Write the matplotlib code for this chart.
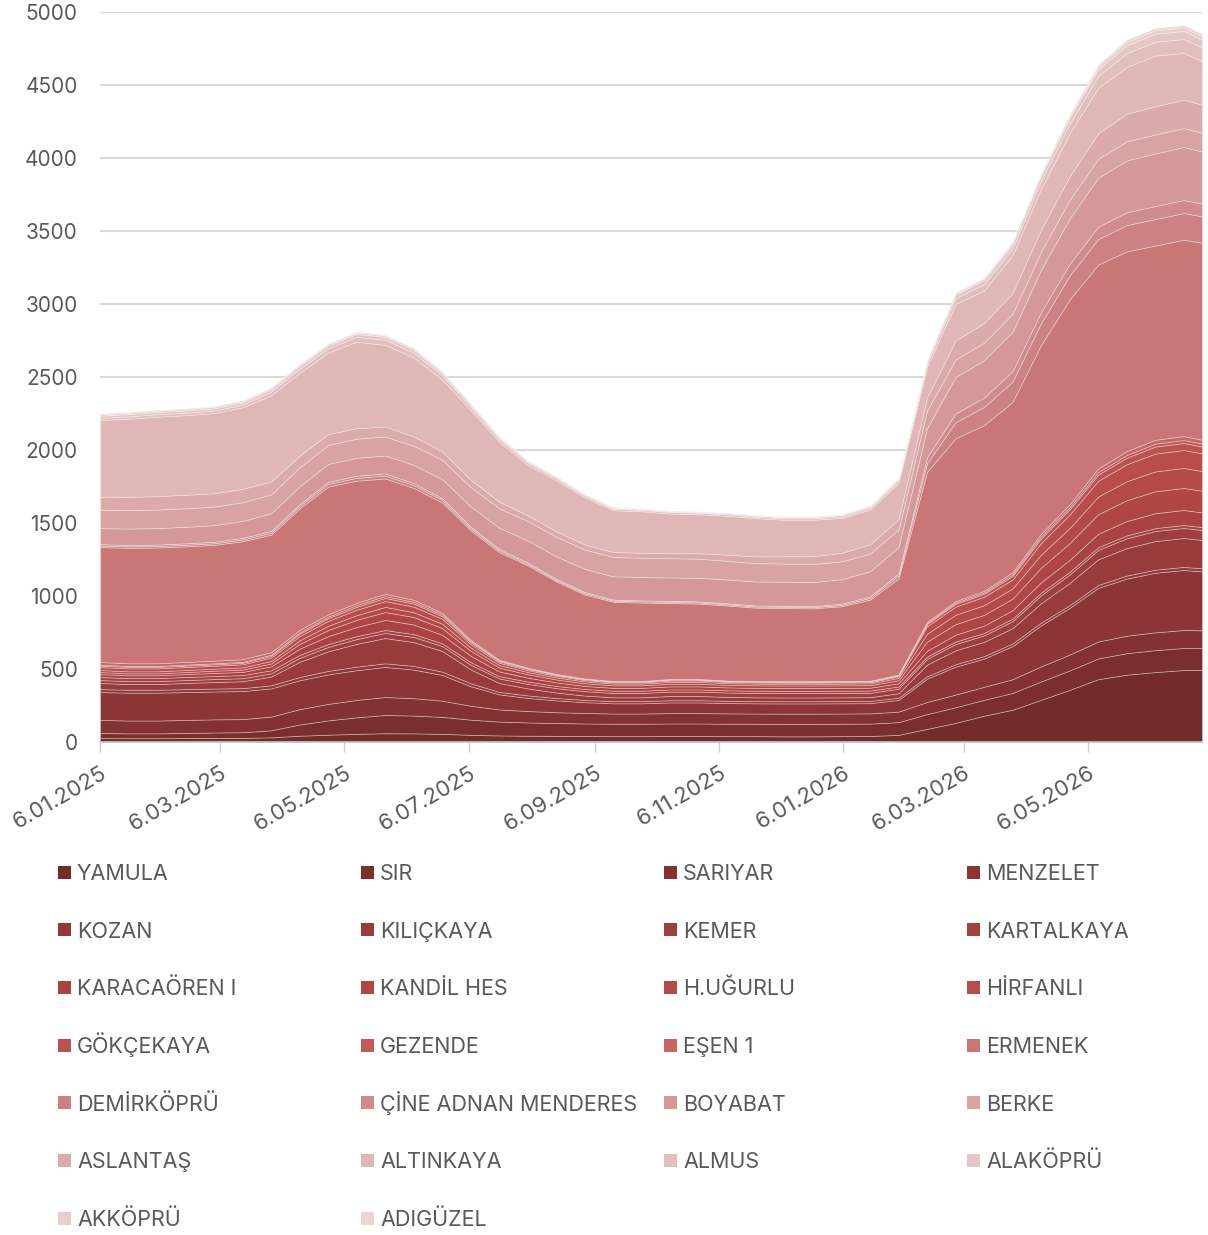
# stacked reservoir volume chart
import pandas as pd
import matplotlib
matplotlib.use('Agg')
import matplotlib.pyplot as plt
from matplotlib.patches import Rectangle

plt.rcParams['font.family'] = ['Inter', 'DejaVu Sans']

# biweekly samples, last point at end of June 2026
dates = list(pd.date_range('2025-01-06', periods=39, freq='14D')) + [pd.Timestamp('2026-07-01')]

names = ['YAMULA', 'SIR', 'SARIYAR', 'MENZELET', 'KOZAN', 'KILIÇKAYA', 'KEMER', 'KARTALKAYA',
         'KARACAÖREN I', 'KANDİL HES', 'H.UĞURLU', 'HİRFANLI', 'GÖKÇEKAYA', 'GEZENDE', 'EŞEN 1',
         'ERMENEK', 'DEMİRKÖPRÜ', 'ÇİNE ADNAN MENDERES', 'BOYABAT', 'BERKE', 'ASLANTAŞ',
         'ALTINKAYA', 'ALMUS', 'ALAKÖPRÜ', 'AKKÖPRÜ', 'ADIGÜZEL']

colors = ['#722c2c', '#7a2e2e', '#833131', '#8b3535', '#923838', '#983b3b', '#9e3e3e', '#a54141',
          '#a94343', '#ae4646', '#b34a4a', '#b74d4d', '#bb5252', '#c05959', '#c46666', '#c87676',
          '#cc8282', '#d08c8c', '#d49898', '#d8a3a3', '#dbabab', '#dfb7b7', '#e2bfbf', '#e5c6c6',
          '#e8cdcd', '#ebd4d4']

yamula = [27, 26, 26, 27, 28, 28, 32, 43, 50, 56, 60, 59, 56, 49, 45, 43, 42, 41, 40, 40,
          41, 41, 40, 40, 39, 39, 40, 41, 49, 90, 131, 180, 221, 289, 357, 430, 461, 479, 493, 493]
sir = [35, 33, 33, 35, 37, 39, 48, 77, 98, 113, 125, 122, 116, 104, 95, 91, 88, 86, 85, 85,
       86, 86, 85, 85, 85, 85, 85, 85, 87, 101, 107, 109, 115, 126, 133, 142, 147, 150, 151, 150]
sariyar = [89, 88, 88, 89, 90, 90, 94, 105, 113, 119, 123, 119, 111, 95, 83, 78, 74, 72, 70, 70,
           71, 71, 71, 70, 70, 70, 70, 70, 72, 83, 87, 89, 94, 103, 109, 116, 120, 122, 123, 122]
menzelet = [191, 191, 191, 191, 191, 192, 193, 198, 202, 204, 206, 196, 176, 134, 103, 90, 81, 74, 70, 70,
            73, 73, 71, 70, 70, 70, 70, 70, 80, 160, 191, 193, 227, 281, 319, 367, 391, 408, 411, 404]
kozan = [20, 20, 20, 20, 20, 20, 21, 22, 24, 24, 25, 25, 23, 20, 17, 17, 16, 15, 15, 15,
         15, 15, 15, 15, 15, 15, 15, 15, 15, 16, 17, 17, 18, 19, 19, 20, 21, 21, 21, 21]
kilickaya = [42, 39, 39, 42, 45, 47, 60, 104, 134, 156, 173, 163, 141, 95, 61, 48, 38, 30, 26, 26,
             29, 29, 27, 26, 26, 26, 26, 26, 31, 80, 95, 98, 105, 133, 152, 176, 188, 196, 198, 194]
kemer = [20, 20, 20, 20, 20, 21, 22, 27, 30, 33, 35, 35, 34, 32, 31, 31, 30, 30, 30, 30,
         30, 30, 30, 30, 30, 30, 30, 30, 31, 39, 43, 44, 48, 54, 58, 64, 67, 69, 69, 68]
kartalkaya = [21, 21, 21, 21, 21, 21, 21, 20, 20, 20, 20, 20, 19, 18, 16, 16, 15, 15, 15, 15,
              15, 15, 15, 15, 15, 15, 15, 15, 15, 16, 17, 17, 17, 18, 19, 19, 20, 20, 20, 20]
karacaoren = [20, 19, 19, 20, 21, 22, 27, 43, 54, 63, 69, 66, 58, 43, 32, 27, 24, 21, 20, 20,
              21, 21, 20, 20, 20, 20, 20, 20, 22, 40, 47, 50, 58, 71, 81, 92, 98, 102, 103, 101]
kandil = [14, 13, 13, 14, 15, 16, 20, 33, 42, 49, 54, 51, 46, 34, 26, 23, 20, 18, 17, 17,
          18, 18, 17, 17, 17, 17, 17, 17, 21, 62, 72, 74, 79, 100, 115, 134, 143, 150, 151, 148]
hugurlu = [14, 14, 14, 14, 14, 15, 17, 24, 29, 32, 35, 33, 30, 23, 18, 15, 14, 13, 12, 12,
           13, 13, 12, 12, 12, 12, 12, 12, 16, 55, 64, 66, 70, 90, 103, 121, 130, 136, 137, 135]
hirfanli = [20, 20, 20, 20, 20, 21, 23, 29, 34, 37, 40, 38, 33, 23, 16, 13, 11, 9, 8, 8,
            9, 9, 8, 8, 8, 8, 8, 8, 11, 50, 56, 58, 61, 79, 92, 108, 116, 122, 123, 121]
gokcekaya = [10, 10, 10, 10, 10, 10, 12, 16, 18, 20, 22, 21, 18, 13, 9, 8, 6, 6, 5, 5,
             6, 6, 5, 5, 5, 5, 5, 5, 6, 15, 19, 20, 25, 32, 36, 42, 45, 48, 48, 47]
gezende = [7, 7, 7, 7, 7, 7, 8, 10, 11, 12, 13, 12, 11, 8, 6, 5, 4, 3, 3, 3,
           3, 3, 3, 3, 3, 3, 3, 3, 4, 7, 9, 9, 11, 14, 15, 18, 19, 20, 20, 20]
esen = [18, 18, 18, 18, 18, 18, 17, 16, 16, 15, 15, 14, 12, 8, 5, 4, 3, 2, 2, 2,
        2, 2, 2, 2, 2, 2, 2, 2, 3, 8, 10, 11, 14, 18, 20, 24, 26, 27, 27, 26]
ermenek = [787, 791, 793, 792, 793, 808, 805, 833, 875, 837, 790, 766, 756, 751, 737, 701, 634, 575, 542, 537,
           520, 516, 514, 502, 501, 498, 512, 556, 657, 1028, 1115, 1135, 1167, 1293, 1402, 1397, 1368, 1330, 1345, 1350]
demirkopru = [10, 10, 10, 11, 11, 12, 14, 16, 18, 19, 20, 19, 17, 14, 12, 10, 9, 9, 8, 8,
              8, 8, 8, 8, 8, 8, 9, 12, 20, 60, 110, 125, 140, 150, 165, 175, 180, 182, 183, 180]
cine = [10, 10, 10, 10, 10, 11, 12, 13, 14, 15, 15, 14, 13, 11, 10, 9, 8, 8, 7, 7,
        7, 7, 7, 7, 7, 7, 8, 10, 15, 40, 60, 64, 70, 75, 80, 85, 88, 89, 89, 88]
boyabat = [110, 112, 113, 113, 114, 116, 120, 122, 122, 123, 122, 125, 130, 138, 145, 150, 155, 158, 160, 160,
           160, 162, 163, 164, 165, 166, 168, 172, 180, 200, 250, 255, 270, 290, 310, 335, 355, 360, 363, 357]
berke = [125, 126, 127, 127, 127, 128, 130, 130, 130, 131, 130, 131, 132, 133, 134, 134, 134, 133, 132, 132,
         132, 130, 128, 126, 124, 123, 122, 121, 120, 120, 120, 121, 123, 125, 127, 129, 130, 130, 130, 128]
aslantas = [90, 91, 92, 92, 92, 92, 88, 80, 75, 72, 68, 64, 58, 50, 45, 40, 37, 35, 34, 34,
            34, 38, 42, 46, 50, 54, 58, 64, 70, 90, 130, 135, 142, 150, 162, 175, 190, 193, 195, 192]
altinkaya = [525, 535, 544, 545, 549, 558, 591, 568, 557, 592, 560, 540, 492, 477, 410, 345, 349, 323, 286, 284,
             272, 267, 266, 262, 250, 249, 240, 238, 250, 210, 250, 222, 259, 280, 294, 312, 320, 347, 320, 299]
almus = [15, 16, 17, 17, 17, 18, 24, 28, 30, 33, 35, 33, 28, 22, 18, 15, 13, 12, 11, 10,
         10, 10, 10, 10, 10, 10, 11, 12, 18, 25, 40, 44, 48, 55, 65, 80, 95, 95, 95, 93]
alakopru = [15, 15, 15, 15, 15, 15, 16, 18, 19, 20, 20, 19, 16, 13, 10, 8, 7, 6, 6, 5,
            5, 5, 6, 6, 7, 7, 8, 9, 10, 15, 25, 27, 30, 35, 42, 48, 55, 55, 55, 54]
akkopru = [10, 10, 10, 10, 10, 10, 10, 10, 10, 10, 10, 10, 9, 8, 7, 6, 5, 4, 4, 3,
           3, 3, 3, 4, 4, 4, 4, 5, 5, 7, 10, 11, 12, 13, 16, 19, 22, 24, 25, 24]
adiguzel = [5, 5, 5, 5, 5, 5, 5, 5, 5, 5, 5, 5, 5, 4, 4, 3, 3, 2, 2, 2,
            2, 2, 2, 2, 2, 2, 2, 2, 2, 3, 5, 6, 6, 7, 9, 12, 15, 15, 15, 15]

series = [yamula, sir, sariyar, menzelet, kozan, kilickaya, kemer, kartalkaya, karacaoren, kandil,
          hugurlu, hirfanli, gokcekaya, gezende, esen, ermenek, demirkopru, cine, boyabat, berke,
          aslantas, altinkaya, almus, alakopru, akkopru, adiguzel]

tick_dates = pd.to_datetime(['2025-01-06', '2025-03-06', '2025-05-06', '2025-07-06', '2025-09-06',
                             '2025-11-06', '2026-01-06', '2026-03-06', '2026-05-06'])
tick_labels = ['6.01.2025', '6.03.2025', '6.05.2025', '6.07.2025', '6.09.2025',
               '6.11.2025', '6.01.2026', '6.03.2026', '6.05.2026']

W, H = 1208, 1235
text_col = '#595959'

fig = plt.figure(figsize=(W / 100, H / 100), dpi=100)
ax = fig.add_axes([100 / W, 493 / H, 1102 / W, 730 / H])

ax.stackplot(dates, series, colors=colors, edgecolor=(1, 1, 1, 0.35), linewidth=0.6)

ax.set_xlim(dates[0], dates[-1])
ax.set_ylim(0, 5000)
ax.set_yticks(range(0, 5001, 500))
ax.grid(axis='y', color='#d9d9d9', linewidth=1.5)
ax.set_axisbelow(True)
for s in ['top', 'right', 'left']:
    ax.spines[s].set_visible(False)
ax.spines['bottom'].set_color('#cccccc')
ax.spines['bottom'].set_linewidth(1.2)

ax.set_xticks(tick_dates)
ax.set_xticklabels(tick_labels, rotation=30, ha='right', rotation_mode='anchor')
ax.tick_params(axis='y', length=0, pad=16, labelsize=15, labelcolor=text_col)
ax.tick_params(axis='x', length=7, width=1, color='#cccccc', pad=8, labelsize=16, labelcolor=text_col)

# legend laid out row by row in four columns, text on a common baseline
for k, (name, c) in enumerate(zip(names, colors)):
    row, col = divmod(k, 4)
    x = 58 + col * 303
    y = 872 + row * 57.7
    fig.add_artist(Rectangle((x / W, 1 - (y + 6.5) / H), 13 / W, 13 / H,
                             transform=fig.transFigure, color=c, linewidth=0))
    fig.text((x + 19) / W, 1 - (y + 8) / H, name, fontsize=15.5, color=text_col,
             va='baseline', ha='left')

fig.savefig('out.png', dpi=100)
